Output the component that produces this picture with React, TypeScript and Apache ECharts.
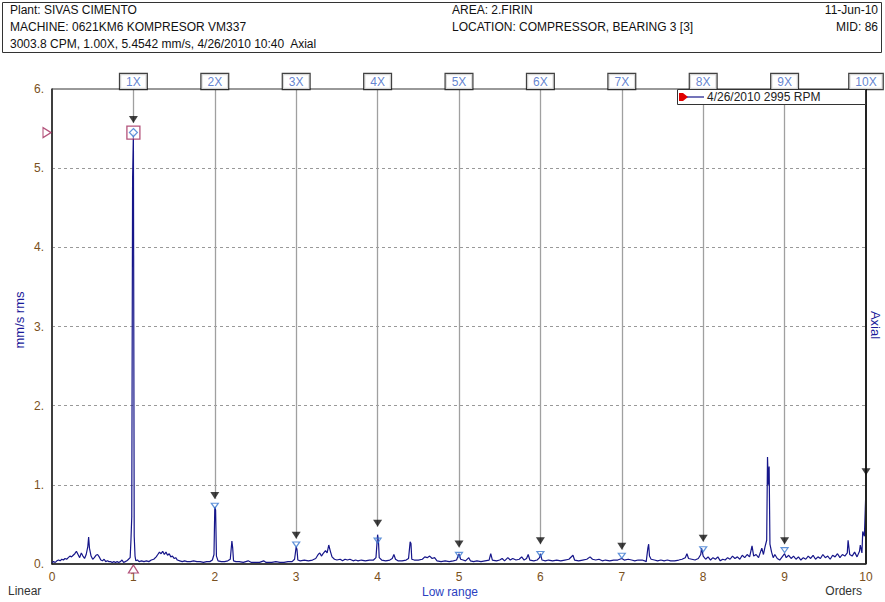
import React, { useEffect, useRef } from "react";
import * as echarts from "echarts";

const FONT = "'Liberation Sans', Arial, Helvetica, sans-serif";

const headerLeft = [
  "Plant: SIVAS CIMENTO",
  "MACHINE: 0621KM6 KOMPRESOR VM337",
  "3003.8 CPM, 1.00X, 5.4542 mm/s, 4/26/2010 10:40  Axial",
];
const headerMid = ["AREA: 2.FIRIN", "LOCATION: COMPRESSOR, BEARING 3 [3]"];
const headerRight = ["11-Jun-10", "MID: 86"];
const legendText = "4/26/2010 2995 RPM";
const yAxisName = "mm/s rms";
const rightName = "Axial";
const scaleText = "Linear";
const rangeText = "Low range";
const xAxisName = "Orders";

const harmonics = [1, 2, 3, 4, 5, 6, 7, 8, 9, 10];
const harmonicAmps = [5.45, 0.71, 0.22, 0.27, 0.09, 0.1, 0.08, 0.16, 0.15];
const arrowTips = [5.57, 0.82, 0.32, 0.47, 0.21, 0.25, 0.18, 0.28, 0.25, 1.12];
const peakPoint: [number, number] = [1.0, 5.45];

const spectrum: [number, number][] = [
  [0.0, 0.02], [0.02, 0.03], [0.04, 0.02], [0.06, 0.04], [0.08, 0.05], [0.1, 0.04],
  [0.12, 0.06], [0.14, 0.05], [0.16, 0.07], [0.18, 0.06], [0.2, 0.08], [0.22, 0.1],
  [0.24, 0.09], [0.26, 0.11], [0.28, 0.13], [0.3, 0.16], [0.32, 0.12], [0.34, 0.08],
  [0.36, 0.14], [0.38, 0.1], [0.4, 0.07], [0.42, 0.12], [0.44, 0.22], [0.45, 0.34],
  [0.46, 0.2], [0.48, 0.1], [0.5, 0.06], [0.52, 0.08], [0.54, 0.11], [0.56, 0.12],
  [0.58, 0.09], [0.6, 0.05], [0.62, 0.04], [0.64, 0.06], [0.66, 0.03], [0.68, 0.04],
  [0.7, 0.03], [0.72, 0.03], [0.74, 0.02], [0.76, 0.03], [0.78, 0.02], [0.8, 0.03],
  [0.82, 0.02], [0.84, 0.03], [0.86, 0.05], [0.88, 0.02], [0.9, 0.03], [0.92, 0.04],
  [0.94, 0.06], [0.96, 0.08], [0.97, 0.3], [0.98, 0.6], [0.99, 4.87], [1.0, 5.45],
  [1.01, 0.35], [1.02, 0.1], [1.03, 0.04], [1.05, 0.05], [1.07, 0.03], [1.1, 0.04],
  [1.13, 0.03], [1.16, 0.04], [1.19, 0.03], [1.22, 0.05], [1.25, 0.06], [1.28, 0.09],
  [1.3, 0.12], [1.32, 0.15], [1.34, 0.13], [1.36, 0.16], [1.38, 0.12], [1.4, 0.15],
  [1.42, 0.11], [1.44, 0.13], [1.46, 0.09], [1.48, 0.1], [1.5, 0.07], [1.52, 0.08],
  [1.54, 0.05], [1.57, 0.04], [1.6, 0.03], [1.63, 0.04], [1.66, 0.03], [1.7, 0.03],
  [1.74, 0.04], [1.78, 0.03], [1.82, 0.03], [1.86, 0.02], [1.9, 0.03], [1.94, 0.03],
  [1.97, 0.05], [1.99, 0.12], [2.0, 0.72], [2.01, 0.68], [2.02, 0.1], [2.04, 0.04],
  [2.08, 0.03], [2.12, 0.03], [2.16, 0.04], [2.19, 0.06], [2.21, 0.29], [2.22, 0.2],
  [2.23, 0.04], [2.26, 0.03], [2.3, 0.03], [2.35, 0.02], [2.41, 0.04], [2.45, 0.02],
  [2.5, 0.02], [2.55, 0.02], [2.6, 0.04], [2.63, 0.02], [2.7, 0.02], [2.75, 0.03],
  [2.8, 0.02], [2.85, 0.02], [2.9, 0.03], [2.95, 0.03], [2.98, 0.06], [3.0, 0.22],
  [3.01, 0.18], [3.02, 0.05], [3.05, 0.04], [3.1, 0.05], [3.15, 0.04], [3.2, 0.05],
  [3.24, 0.07], [3.27, 0.12], [3.29, 0.14], [3.31, 0.1], [3.33, 0.13], [3.36, 0.17],
  [3.38, 0.14], [3.4, 0.24], [3.42, 0.16], [3.44, 0.09], [3.47, 0.06], [3.5, 0.05],
  [3.54, 0.06], [3.57, 0.04], [3.6, 0.06], [3.63, 0.05], [3.66, 0.06], [3.7, 0.04],
  [3.73, 0.05], [3.76, 0.04], [3.8, 0.05], [3.85, 0.04], [3.9, 0.05], [3.95, 0.05],
  [3.98, 0.08], [4.0, 0.37], [4.01, 0.3], [4.02, 0.08], [4.05, 0.05], [4.1, 0.04],
  [4.15, 0.05], [4.18, 0.07], [4.2, 0.12], [4.22, 0.06], [4.25, 0.04], [4.3, 0.04],
  [4.35, 0.05], [4.38, 0.07], [4.4, 0.28], [4.41, 0.26], [4.42, 0.06], [4.45, 0.05],
  [4.5, 0.05], [4.55, 0.06], [4.58, 0.09], [4.61, 0.08], [4.64, 0.1], [4.67, 0.07],
  [4.7, 0.08], [4.73, 0.04], [4.78, 0.03], [4.83, 0.04], [4.88, 0.03], [4.93, 0.04],
  [4.97, 0.05], [5.0, 0.13], [5.02, 0.06], [5.05, 0.05], [5.08, 0.04], [5.12, 0.08],
  [5.14, 0.04], [5.18, 0.03], [5.22, 0.04], [5.27, 0.03], [5.32, 0.04], [5.37, 0.05],
  [5.39, 0.13], [5.41, 0.05], [5.46, 0.04], [5.5, 0.05], [5.53, 0.07], [5.56, 0.04],
  [5.6, 0.08], [5.63, 0.05], [5.66, 0.07], [5.7, 0.05], [5.74, 0.06], [5.77, 0.09],
  [5.8, 0.05], [5.83, 0.07], [5.85, 0.12], [5.87, 0.05], [5.92, 0.04], [5.96, 0.05],
  [5.99, 0.08], [6.0, 0.13], [6.02, 0.05], [6.06, 0.04], [6.1, 0.05], [6.15, 0.04],
  [6.2, 0.05], [6.25, 0.04], [6.3, 0.05], [6.35, 0.06], [6.4, 0.11], [6.42, 0.05],
  [6.47, 0.04], [6.52, 0.05], [6.57, 0.06], [6.61, 0.09], [6.64, 0.06], [6.68, 0.05],
  [6.72, 0.06], [6.76, 0.04], [6.8, 0.05], [6.85, 0.04], [6.9, 0.05], [6.95, 0.05],
  [7.0, 0.07], [7.03, 0.05], [7.08, 0.06], [7.12, 0.05], [7.16, 0.04], [7.2, 0.05],
  [7.25, 0.05], [7.28, 0.04], [7.3, 0.03], [7.32, 0.2], [7.33, 0.25], [7.34, 0.1],
  [7.36, 0.06], [7.4, 0.05], [7.44, 0.04], [7.48, 0.05], [7.52, 0.04], [7.56, 0.05],
  [7.6, 0.04], [7.65, 0.04], [7.7, 0.05], [7.74, 0.06], [7.78, 0.08], [7.8, 0.13],
  [7.82, 0.07], [7.86, 0.06], [7.9, 0.05], [7.94, 0.07], [7.97, 0.12], [7.98, 0.2],
  [8.0, 0.1], [8.03, 0.06], [8.06, 0.09], [8.09, 0.05], [8.12, 0.08], [8.15, 0.06],
  [8.18, 0.09], [8.21, 0.04], [8.24, 0.06], [8.27, 0.05], [8.3, 0.08], [8.33, 0.06],
  [8.36, 0.1], [8.39, 0.07], [8.42, 0.09], [8.45, 0.06], [8.48, 0.11], [8.51, 0.08],
  [8.54, 0.12], [8.57, 0.09], [8.6, 0.23], [8.62, 0.1], [8.65, 0.12], [8.68, 0.08],
  [8.7, 0.14], [8.72, 0.2], [8.74, 0.12], [8.76, 0.22], [8.78, 0.3], [8.79, 1.35],
  [8.8, 1.0], [8.81, 1.23], [8.82, 0.25], [8.84, 0.15], [8.86, 0.08], [8.88, 0.12],
  [8.91, 0.07], [8.94, 0.05], [8.97, 0.09], [9.0, 0.13], [9.02, 0.08], [9.05, 0.11],
  [9.08, 0.07], [9.11, 0.1], [9.14, 0.06], [9.17, 0.09], [9.2, 0.05], [9.23, 0.08],
  [9.26, 0.06], [9.29, 0.1], [9.32, 0.07], [9.35, 0.11], [9.38, 0.06], [9.41, 0.09],
  [9.44, 0.07], [9.47, 0.12], [9.5, 0.08], [9.53, 0.1], [9.56, 0.06], [9.59, 0.11],
  [9.62, 0.09], [9.65, 0.13], [9.68, 0.08], [9.71, 0.12], [9.74, 0.1], [9.77, 0.14],
  [9.78, 0.3], [9.8, 0.12], [9.83, 0.1], [9.86, 0.15], [9.89, 0.09], [9.92, 0.16],
  [9.93, 0.24], [9.95, 0.14], [9.96, 0.41], [9.98, 0.35], [10.0, 0.97],
];

const NAVY = "#16168a";
const AXIS_TEXT = "#7a5020";
const MARKER_RED = "#a0285a";
const HARM_BLUE = "#3a78d0";

export default function App() {
  const ref = useRef<HTMLDivElement>(null);

  useEffect(() => {
    if (!ref.current) return;
    const chart = echarts.init(ref.current, undefined, { renderer: "svg" });

    const textStyle = (extra: any) => ({
      fontFamily: FONT,
      fontSize: 12,
      fill: "#111",
      ...extra,
    });

    const graphic: any[] = [
      {
        type: "rect",
        shape: { x: 2.5, y: 2.5, width: 879, height: 50 },
        style: { fill: "none", stroke: "#333", lineWidth: 1 },
        silent: true,
      },
      ...headerLeft.map((t, i) => ({
        type: "text",
        x: 10,
        y: 10 + i * 17,
        style: textStyle({ text: t, verticalAlign: "middle" }),
      })),
      ...headerMid.map((t, i) => ({
        type: "text",
        x: 452,
        y: 10 + i * 17,
        style: textStyle({ text: t, verticalAlign: "middle" }),
      })),
      ...headerRight.map((t, i) => ({
        type: "text",
        x: 878,
        y: 10 + i * 17,
        style: textStyle({ text: t, align: "right", verticalAlign: "middle" }),
      })),
      {
        type: "text",
        x: 19,
        y: 320,
        rotation: Math.PI / 2,
        style: textStyle({ text: yAxisName, fontSize: 13, fill: "#1a1a9a", align: "center", verticalAlign: "middle" }),
      },
      {
        type: "text",
        x: 875,
        y: 325,
        rotation: -Math.PI / 2,
        style: textStyle({ text: rightName, fontSize: 13, fill: "#1a1a9a", align: "center", verticalAlign: "middle" }),
      },
      {
        type: "text",
        x: 8,
        y: 591,
        style: textStyle({ text: scaleText, fill: "#333", verticalAlign: "middle" }),
      },
      {
        type: "text",
        x: 450,
        y: 592,
        style: textStyle({ text: rangeText, fill: "#2b3fbf", align: "center", verticalAlign: "middle" }),
      },
      {
        type: "text",
        x: 862,
        y: 591,
        style: textStyle({ text: xAxisName, fill: "#333", align: "right", verticalAlign: "middle" }),
      },
      // legend box
      {
        type: "rect",
        shape: { x: 677.5, y: 89.5, width: 188, height: 15 },
        style: { fill: "#fff", stroke: "#333", lineWidth: 1 },
        z: 50,
      },
      {
        type: "polygon",
        shape: { points: [[679, 93], [683, 93], [688, 97], [683, 101], [679, 101]] },
        style: { fill: "#e00000" },
        z: 51,
      },
      {
        type: "line",
        shape: { x1: 687, y1: 97, x2: 704, y2: 97 },
        style: { stroke: NAVY, lineWidth: 1.2 },
        z: 51,
      },
      {
        type: "text",
        x: 707,
        y: 97,
        style: textStyle({ text: legendText, fill: "#222", verticalAlign: "middle" }),
        z: 51,
      },
    ];

    const markLineData: any[] = harmonics.map((k, i) => {
      const isLast = k === 10;
      return [
        {
          coord: [k, 6],
          lineStyle: isLast ? { color: "#222", width: 2 } : { color: "#a0a0a0", width: 1.3 },
        },
        { coord: [k, isLast ? 0 : arrowTips[i]] },
      ];
    });

    const option: any = {
      animation: false,
      backgroundColor: "#fff",
      textStyle: { fontFamily: FONT },
      grid: {
        left: 52,
        right: 19,
        top: 89,
        bottom: 38,
        show: true,
        borderColor: "#333",
        borderWidth: 1,
        backgroundColor: "transparent",
      },
      xAxis: {
        type: "value",
        min: 0,
        max: 10,
        interval: 1,
        axisLine: { show: true, lineStyle: { color: "#222", width: 1.5 } },
        axisTick: { show: false },
        splitLine: { show: false },
        axisLabel: { color: AXIS_TEXT, fontSize: 12, margin: 7, fontFamily: FONT },
      },
      yAxis: {
        type: "value",
        min: 0,
        max: 6,
        interval: 1,
        axisLine: { show: true, lineStyle: { color: "#222", width: 1.5 } },
        axisTick: { show: false },
        splitLine: { show: true, lineStyle: { color: "#999", type: [3, 3], width: 1 } },
        axisLabel: {
          color: AXIS_TEXT,
          fontSize: 12,
          margin: 8,
          fontFamily: FONT,
          formatter: (v: number) => `${v}.`,
        },
      },
      graphic,
      series: [
        {
          type: "line",
          data: [],
          silent: true,
          markLine: {
            silent: true,
            symbol: ["none", "none"],
            label: { show: false },
            lineStyle: { type: "solid" },
            data: markLineData,
          },
        },
        {
          type: "line",
          data: spectrum,
          showSymbol: false,
          symbol: "none",
          lineStyle: { color: NAVY, width: 1.2 },
          itemStyle: { color: NAVY },
          z: 3,
          silent: true,
        },
        {
          type: "scatter",
          data: harmonics.map((k, i) => [k, arrowTips[i]]),
          symbol: "triangle",
          symbolRotate: 180,
          symbolSize: [9, 7],
          symbolOffset: [0, -3.5],
          itemStyle: { color: "#111" },
          clip: false,
          z: 6,
          silent: true,
        },
        {
          type: "scatter",
          data: harmonics.slice(1, 9).map((k, i) => [k, harmonicAmps[i + 1]]),
          symbol: "triangle",
          symbolRotate: 180,
          symbolSize: [7, 5],
          symbolOffset: [0, -2],
          itemStyle: { color: "rgba(255,255,255,0.2)", borderColor: HARM_BLUE, borderWidth: 1.2 },
          clip: false,
          z: 6,
          silent: true,
        },
        {
          type: "scatter",
          data: [peakPoint],
          symbol: "rect",
          symbolSize: 13,
          itemStyle: { color: "rgba(255,255,255,0.6)", borderColor: MARKER_RED, borderWidth: 1.3 },
          z: 7,
          clip: false,
          silent: true,
        },
        {
          type: "scatter",
          data: [peakPoint],
          symbol: "diamond",
          symbolSize: 8,
          itemStyle: { color: "#fff", borderColor: HARM_BLUE, borderWidth: 1.2 },
          z: 8,
          clip: false,
          silent: true,
        },
        {
          type: "scatter",
          data: [[0, peakPoint[1]]],
          symbol: "triangle",
          symbolRotate: -90,
          symbolSize: [10, 8],
          symbolOffset: [-5, 0],
          itemStyle: { color: "#fff", borderColor: MARKER_RED, borderWidth: 1.2 },
          z: 8,
          clip: false,
          silent: true,
        },
        {
          type: "scatter",
          data: [[peakPoint[0], 0]],
          symbol: "triangle",
          symbolSize: [10, 8],
          symbolOffset: [0, 5],
          itemStyle: { color: "#fff", borderColor: MARKER_RED, borderWidth: 1.2 },
          z: 8,
          clip: false,
          silent: true,
        },
        {
          type: "scatter",
          data: harmonics.map((k) => [k, 6]),
          symbolSize: 0,
          clip: false,
          silent: true,
          z: 20,
          label: {
            show: true,
            position: "top",
            distance: 0,
            formatter: (p: any) => `${p.value[0]}X`,
            color: "#3a64c4",
            fontSize: 12,
            fontFamily: FONT,
            backgroundColor: "#fff",
            borderColor: "#111",
            borderWidth: 1.2,
            padding: [2, 6, 1, 6],
          },
        },
      ],
    };

    chart.setOption(option);
    return () => chart.dispose();
  }, []);

  return (
    <div
      ref={ref}
      style={{ position: "fixed", left: 0, top: 0, width: 885, height: 602, background: "#fff" }}
    />
  );
}
